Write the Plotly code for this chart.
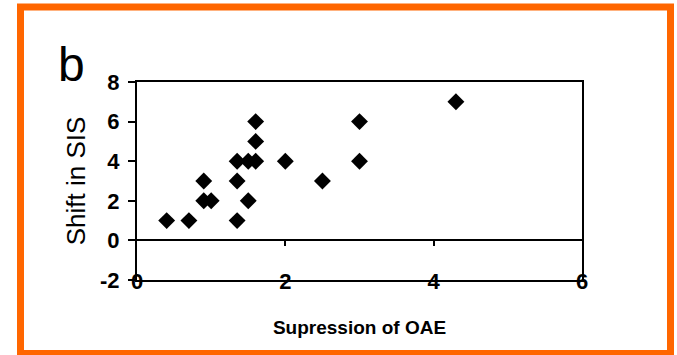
import plotly.graph_objects as go

# Suppression of OAE vs. shift in SIS, one point per subject
supression_oae = [0.4, 0.7, 0.9, 0.9, 1.0, 1.35, 1.35, 1.35, 1.5, 1.5, 1.6, 1.6, 1.6, 2.0, 2.5, 3.0, 3.0, 4.3]
shift_sis = [1, 1, 3, 2, 2, 4, 3, 1, 4, 2, 4, 5, 6, 4, 3, 4, 6, 7]

x_ticks = [0, 2, 4, 6]
y_ticks = [-2, 0, 2, 4, 6, 8]
y_tick_text = ["-2", "0", "2", "4", "6", "8"]

W, H = 677, 355
ML, MR, MT, MB = 137, 95, 82, 75
PW, PH = W - ML - MR, H - MT - MB

FONT = "Liberation Sans, Arial, sans-serif"
ORANGE = "#FF6600"


def px_x(p):
    return (p - ML) / PW


def px_y(p):
    return (H - MB - p) / PH


fig = go.Figure()
fig.add_trace(go.Scatter(
    x=supression_oae, y=shift_sis, mode="markers",
    marker=dict(symbol="diamond", size=13, color="black", line=dict(width=0)),
    showlegend=False, hoverinfo="x+y",
))
# empty trace so the overlaid axis crossing at y = 0 gets drawn
fig.add_trace(go.Scatter(x=[], y=[], xaxis="x2", showlegend=False, hoverinfo="skip"))

fig.update_layout(
    width=W, height=H,
    margin=dict(l=ML, r=MR, t=MT, b=MB, pad=0),
    paper_bgcolor="white", plot_bgcolor="white",
    font=dict(family=FONT, color="black"),
    xaxis=dict(
        range=[0, 6], tickvals=x_ticks, ticks="", showgrid=False, zeroline=False,
        showline=True, mirror=True, linecolor="black", linewidth=2,
        tickfont=dict(size=22, weight="bold"), ticklabelstandoff=-19,
        title=dict(text="Supression of OAE", font=dict(size=19, weight="bold"), standoff=27),
    ),
    xaxis2=dict(
        range=[0, 6], overlaying="x", anchor="free", position=0.2,
        tickvals=[2, 4], ticks="outside", ticklen=5, tickwidth=2, tickcolor="black",
        showticklabels=False, showgrid=False, zeroline=False,
        showline=True, linecolor="black", linewidth=2,
    ),
    yaxis=dict(
        range=[-2, 8], tickvals=y_ticks, ticktext=y_tick_text, ticks="outside",
        ticklen=7, tickwidth=2, tickcolor="black", showgrid=False,
        zeroline=True, zerolinecolor="black", zerolinewidth=2,
        showline=True, mirror=True, linecolor="black", linewidth=2,
        tickfont=dict(size=22, weight="bold"), ticklabelstandoff=4,
        title=dict(text="Shift in SIS", font=dict(size=26), standoff=7),
    ),
    annotations=[dict(
        text="b", xref="paper", yref="paper", x=px_x(56), y=px_y(93),
        xanchor="left", yanchor="bottom", showarrow=False,
        font=dict(size=48, family=FONT, color="black"),
    )],
    shapes=[dict(
        type="rect", xref="paper", yref="paper", layer="above",
        x0=px_x(20.5), x1=px_x(670.5), y0=px_y(353.5), y1=px_y(7),
        line=dict(color=ORANGE, width=7), fillcolor="rgba(0,0,0,0)",
    )],
)

fig.write_html("out.html")
